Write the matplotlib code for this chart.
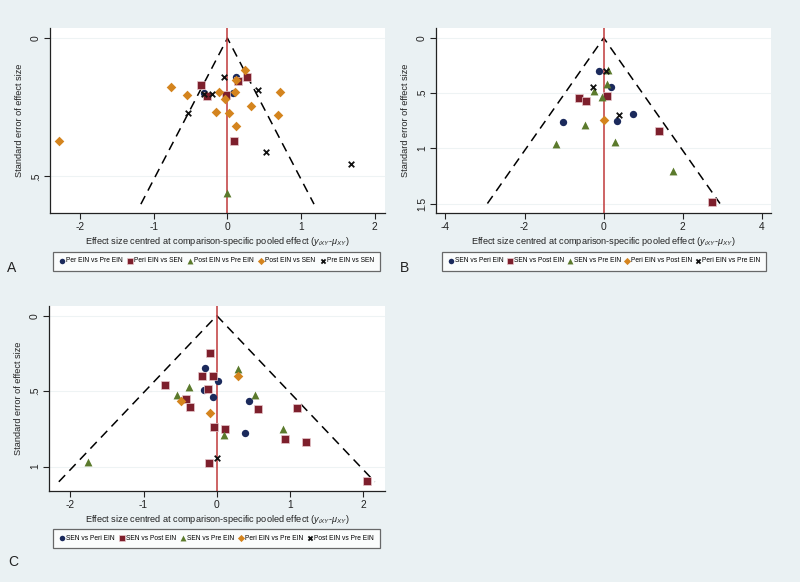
import matplotlib
matplotlib.use("Agg")
import matplotlib.pyplot as plt
import numpy as np

plt.rcParams["font.family"] = ["Liberation Sans", "DejaVu Sans"]
plt.rcParams["mathtext.fontset"] = "custom"
plt.rcParams["mathtext.rm"] = "Liberation Sans"
plt.rcParams["mathtext.it"] = "Liberation Sans:italic"

# ---- colours (Stata-ish scheme) ----
BG = "#eaf1f3"
NAVY = "#1b2a5c"
MAROON = "#7d1f2c"
GREEN = "#5b7a2c"
ORANGE = "#d4841e"
BLACK = "#111111"

# ---- Panel A data ----
a_labels = ["Per EIN vs Pre EIN", "Peri EIN vs SEN", "Post EIN vs Pre EIN",
            "Post EIN vs SEN", "Pre EIN vs SEN"]
a_x = [
    [0.12, 0.08, -0.32],
    [-0.36, 0.26, -0.02, -0.28, 0.15, 0.09],
    [0.0],
    [-2.29, -0.77, -0.55, -0.11, -0.03, -0.15, 0.02, 0.10, 0.12, 0.24,
     0.32, 0.12, 0.72, 0.68],
    [-0.04, -0.32, -0.21, -0.53, 0.41, 0.52, 1.68],
]
a_y = [
    [0.139, 0.199, 0.199],
    [0.169, 0.141, 0.205, 0.208, 0.153, 0.37],
    [0.558],
    [0.373, 0.177, 0.205, 0.196, 0.22, 0.265, 0.271, 0.193, 0.151, 0.114,
     0.245, 0.319, 0.195, 0.277],
    [0.141, 0.202, 0.202, 0.271, 0.189, 0.41, 0.455],
]

# ---- Panel B data ----
b_labels = ["SEN vs Peri EIN", "SEN vs Post EIN", "SEN vs Pre EIN",
            "Peri EIN vs Post EIN", "Peri EIN vs Pre EIN"]
b_x = [
    [-0.13, 0.19, 0.73, 0.33, -1.04],
    [-0.62, -0.45, 0.08, 1.39, 2.75],
    [0.11, 0.09, -0.25, -0.04, -0.47, -1.21, 0.28, 1.76],
    [0.0],
    [0.06, -0.28, 0.38],
]
b_y = [
    [0.302, 0.444, 0.686, 0.749, 0.761],
    [0.544, 0.574, 0.523, 0.843, 1.486],
    [0.293, 0.414, 0.477, 0.535, 0.785, 0.961, 0.943, 1.208],
    [0.746],
    [0.302, 0.447, 0.70],
]

# ---- Panel C data ----
c_labels = ["SEN vs Peri EIN", "SEN vs Post EIN", "SEN vs Pre EIN",
            "Peri EIN vs Pre EIN", "Post EIN vs Pre EIN"]
c_x = [
    [-0.155, 0.01, -0.17, -0.05, 0.44, 0.38],
    [-0.09, -0.2, -0.05, -0.71, -0.12, -0.42, -0.36, 0.56, 1.09, -0.04,
     0.11, 0.93, 1.22, -0.11, 2.05],
    [0.29, -0.38, -0.54, 0.52, 0.1, 0.91, -1.76],
    [0.29, -0.49, -0.09],
    [0.0],
]
c_y = [
    [0.349, 0.433, 0.492, 0.541, 0.563, 0.775],
    [0.245, 0.397, 0.397, 0.459, 0.486, 0.552, 0.603, 0.62, 0.614, 0.735,
     0.753, 0.817, 0.834, 0.974, 1.095],
    [0.355, 0.475, 0.525, 0.525, 0.788, 0.753, 0.967],
    [0.397, 0.563, 0.642],
    [0.94],
]

markers = ["o", "s", "^", "D", "x"]
colors = [NAVY, MAROON, GREEN, ORANGE, BLACK]

W, H = 800, 582
fig = plt.figure(figsize=(8, 5.82), dpi=100)
fig.patch.set_facecolor(BG)


def px_axes(left, right, top, bottom):
    return fig.add_axes([left / W, 1 - bottom / H, (right - left) / W, (bottom - top) / H])


def panel(ax, xs, ys, labels, se_max, xlim, ylim, xticks, yticks, ytl, leg_box, letter, letter_pos):
    ax.set_facecolor("white")
    for s in ["top", "right"]:
        ax.spines[s].set_visible(False)
    for s in ["left", "bottom"]:
        ax.spines[s].set_color("#222222")
        ax.spines[s].set_linewidth(0.9)
    for t in yticks:
        ax.axhline(t, color="#eef3f4", lw=0.8, zorder=0)
    # funnel: pseudo 95% limits
    ax.plot([-1.96 * se_max, 0, 1.96 * se_max], [se_max, 0, se_max],
            color="black", lw=1.1, ls=(0, (6, 4)), zorder=2)
    ax.axvline(0, color="#c0393b", lw=1.1, zorder=2)
    handles = []
    for i in range(5):
        m = markers[i]
        if m == "x":
            h = ax.scatter(xs[i], ys[i], marker="x", s=16, color=colors[i], lw=1.3, zorder=3)
        elif m == "s":
            h = ax.scatter(xs[i], ys[i], marker="s", s=30, color=colors[i],
                           edgecolors="#e8c8cc", lw=0.5, zorder=3)
        else:
            sz = {"o": 28, "^": 32, "D": 24}[m]
            h = ax.scatter(xs[i], ys[i], marker=m, s=sz, color=colors[i], lw=0, zorder=3)
        handles.append(h)
    ax.set_xlim(*xlim)
    ax.set_ylim(*ylim)
    ax.set_xticks(xticks)
    ax.set_xticklabels([str(t) for t in xticks])
    ax.set_yticks(yticks)
    ax.set_yticklabels(ytl, rotation=90, va="center")
    ax.tick_params(labelsize=7.4, colors="#222222", length=4, width=0.8, pad=2.5)
    ax.set_ylabel("Standard error of effect size", fontsize=6.6, color="#222222", labelpad=5)
    ax.set_xlabel("Effect size centred at comparison-specific pooled effect ($y_{iXY}$-$\\mu_{XY}$)",
                  fontsize=6.6, color="#222222", labelpad=2)
    l, r, t, b = leg_box
    leg = fig.legend(handles, labels, loc="center",
                     bbox_to_anchor=(l / W, 1 - b / H, (r - l) / W, (b - t) / H),
                     mode="expand", ncol=5, fontsize=4.8, frameon=True, fancybox=False,
                     handletextpad=0.1, columnspacing=0.5, handlelength=1.0,
                     markerscale=0.75, borderpad=0.9, borderaxespad=0)
    leg.get_frame().set_edgecolor("#444444")
    leg.get_frame().set_linewidth(0.9)
    fig.text(letter_pos[0] / W, 1 - letter_pos[1] / H, letter, fontsize=10, color="#222222",
             ha="left", va="center")


axA = px_axes(50, 385, 28, 213)
panel(axA, a_x, a_y, a_labels, 0.6, (-2.41, 2.14), (0.632, -0.037),
      [-2, -1, 0, 1, 2], [0, 0.5], ["0", ".5"], (53, 380, 250, 272), "A", (7, 268))

axB = px_axes(436, 771, 28, 213)
panel(axB, b_x, b_y, b_labels, 1.5, (-4.24, 4.23), (1.586, -0.09),
      [-4, -2, 0, 2, 4], [0, 0.5, 1, 1.5], ["0", ".5", "1", "1.5"], (442, 766, 251, 271), "B", (400, 268))

axC = px_axes(49, 385, 306, 491)
panel(axC, c_x, c_y, c_labels, 1.1, (-2.29, 2.296), (1.161, -0.064),
      [-2, -1, 0, 1, 2], [0, 0.5, 1], ["0", ".5", "1"], (53, 380, 528, 548), "C", (8, 562))

fig.savefig("out.png", dpi=100, facecolor=BG)
